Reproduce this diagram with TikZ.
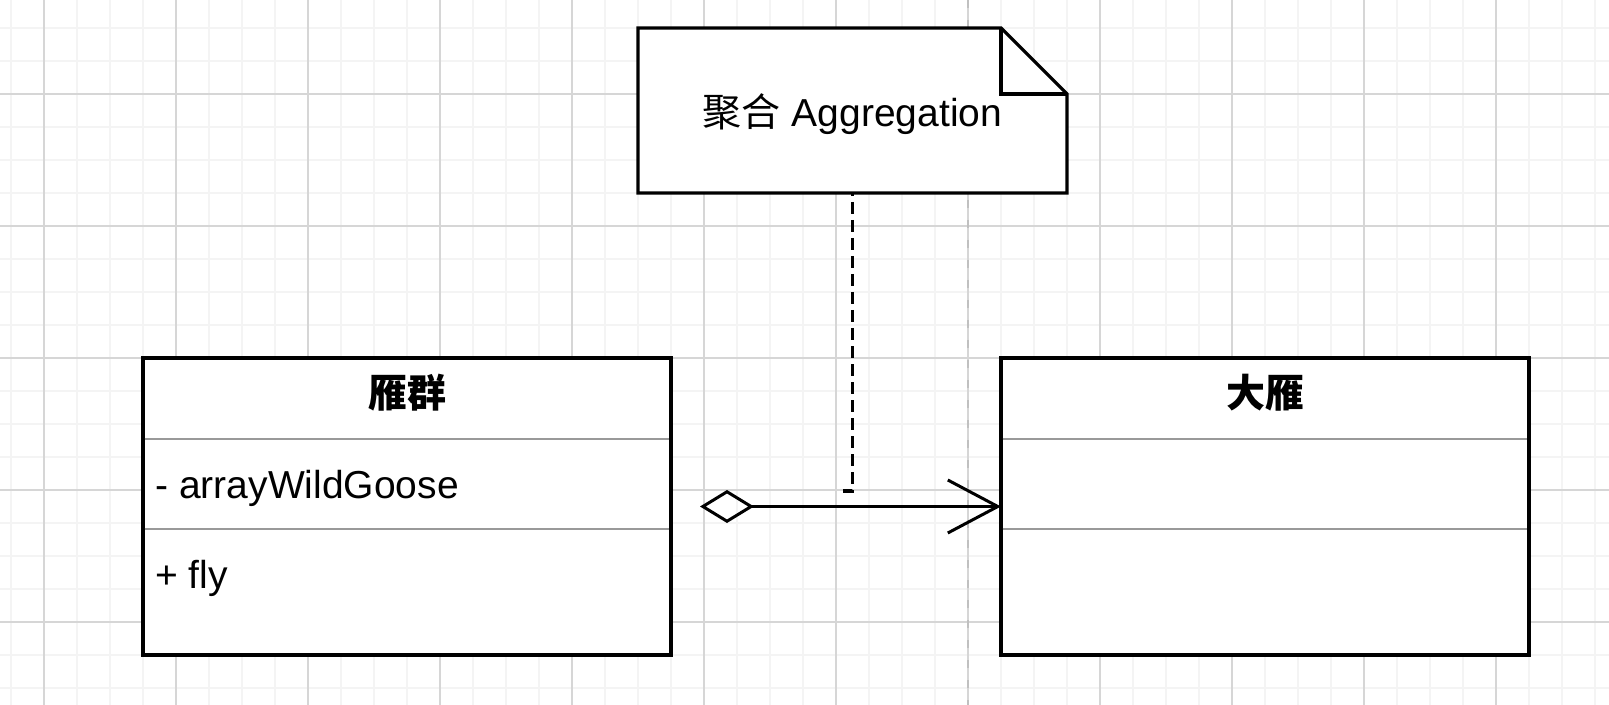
\documentclass[tikz,border=0pt]{standalone}
\usepackage{fontspec}
\setmainfont{Liberation Sans}
\newfontfamily\cjk{Noto Sans CJK SC}
\usetikzlibrary{arrows.meta,backgrounds}

\definecolor{rejillamenor}{HTML}{F4F4F4}
\definecolor{rejillamayor}{HTML}{D6D6D6}
\definecolor{paginagris}{HTML}{C0C0C0}
\definecolor{separa}{HTML}{999999}

\newcommand{\tamanio}{\fontsize{19.5pt}{23pt}\selectfont}

\begin{document}
\begin{tikzpicture}[x=0.5pt, y=-0.5pt,
        % Estilo para las cajas de las clases
        clase/.style={draw, line width=1.6pt, fill=white, inner sep=0pt, outer sep=0pt,
            minimum width=264pt, minimum height=148.5pt},
        % Estilo para los nombres de las clases
        titulo/.style={font=\tamanio\cjk\bfseries, inner sep=0pt},
        % Estilo para atributos y métodos
        miembro/.style={font=\tamanio, anchor=base west, inner sep=0pt},
        % Estilo para las líneas que dividen las cajas
        separador/.style={draw=separa, line width=1.2pt, shorten <=0.8pt, shorten >=0.8pt},
        % Estilo para la nota
        nota/.style={font=\tamanio, inner sep=0pt, outer sep=0pt,
            minimum width=214.5pt, minimum height=82.5pt, text height=20.5pt, text depth=4pt},
        borde/.style={line width=1.6pt, line join=miter},
        % Estilo para la flecha de agregación
        agregacion/.style={line width=1.5pt,
            {Diamond[open, length=27pt, width=16.5pt]}-{Straight Barb[length=25pt, width=26.5pt]}},
        % Estilo para la línea de la nota
        enlace/.style={line width=1.6pt, dash pattern=on 6pt off 3pt, dash phase=4.5pt},
        % Estilos de la rejilla
        menor/.style={draw=rejillamenor, line width=1pt},
        mayor/.style={draw=rejillamayor, line width=1pt},
        pagina/.style={draw=paginagris, line width=1pt, dash pattern=on 4pt off 6pt}
    ]
        \useasboundingbox (0,0) rectangle (1609,705);

        % --- Rejilla de fondo ---
        \begin{scope}[on background layer]
            \fill[white] (0,0) rectangle (1609,705);
            \foreach \x in {11,44,...,1609} \draw[menor] (\x,0) -- (\x,705);
            \foreach \y in {28,61,...,705} \draw[menor] (0,\y) -- (1609,\y);
            \foreach \x in {44,176,...,1609} \draw[mayor] (\x,0) -- (\x,705);
            \foreach \y in {94,226,...,705} \draw[mayor] (0,\y) -- (1609,\y);
            % Límite de página
            \draw[pagina] (968,0) -- (968,705);
        \end{scope}

        % --- Clases ---
        % Clase "雁群" (izquierda)
        \node[clase] (bandada) at (407,506.5) {};
        \draw[separador] ([yshift=-40.5pt]bandada.north west) -- ([yshift=-40.5pt]bandada.north east);
        \draw[separador] ([yshift=-85.5pt]bandada.north west) -- ([yshift=-85.5pt]bandada.north east);
        \node[titulo] (bandada-titulo) at ([yshift=-17.5pt]bandada.north) {雁群};
        \node[miembro] (bandada-atributo) at (155,498) {- arrayWildGoose};
        \node[miembro] (bandada-metodo) at (155,588) {+ fly};

        % Clase "大雁" (derecha)
        \node[clase] (ganso) at (1265,506.5) {};
        \draw[separador] ([yshift=-40.5pt]ganso.north west) -- ([yshift=-40.5pt]ganso.north east);
        \draw[separador] ([yshift=-85.5pt]ganso.north west) -- ([yshift=-85.5pt]ganso.north east);
        \node[titulo] (ganso-titulo) at ([yshift=-17.5pt]ganso.north) {大雁};

        % --- Nota ---
        \node[nota] (nota) at (852.5,110.5) {{\cjk 聚合} Aggregation};
        \begin{scope}[on background layer]
            \draw[borde, fill=white] (nota.north west) -- ([xshift=-33pt]nota.north east)
                -- ([yshift=-33pt]nota.north east) -- (nota.south east) -- (nota.south west) -- cycle;
        \end{scope}
        \draw[borde] ([xshift=-33pt]nota.north east) |- ([yshift=-33pt]nota.north east);

        % --- Conectores ---
        \coordinate (nota-fin) at (843,491);
        \draw[enlace] (nota.south) |- (nota-fin);

        \coordinate (bandada-diamante) at ([xshift=14.5pt]bandada.east);
        \draw[agregacion] (bandada-diamante) -- (ganso.west);

    \end{tikzpicture}
\end{document}
